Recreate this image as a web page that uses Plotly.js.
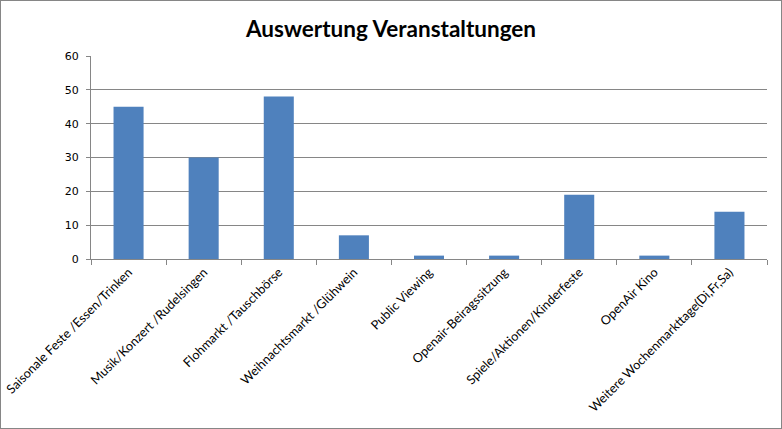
<!DOCTYPE html>
<html>
<head>
<meta charset="utf-8">
<script src="https://cdn.plot.ly/plotly-3.0.1.min.js"></script>
<style>
html,body{margin:0;padding:0;background:#fff;}
#chart{width:782px;height:429px;box-sizing:border-box;border:1px solid #868686;}
</style>
</head>
<body>
<div id="chart"></div>
<script>
var categories = [
  "Saisonale Feste /Essen/Trinken",
  "Musik/Konzert /Rudelsingen",
  "Flohmarkt /Tauschbörse",
  "Weihnachtsmarkt /Glühwein",
  "Public Viewing",
  "Openair-Beiragssitzung",
  "Spiele/Aktionen/Kinderfeste",
  "OpenAir Kino",
  "Weitere Wochenmarkttage(Di,Fr,Sa)"
];
var values = [45, 30, 48, 7, 1, 1, 19, 1, 14];
var yTicks = [0, 10, 20, 30, 40, 50, 60];

var trace = {
  type: "bar",
  x: categories,
  y: values,
  marker: {color: "#4F81BD"},
  hoverinfo: "x+y"
};

var layout = {
  width: 780,
  height: 427,
  margin: {l: 90, r: 14, t: 55, b: 169},
  paper_bgcolor: "#fff",
  plot_bgcolor: "#fff",
  bargap: 0.6,
  showlegend: false,
  title: {
    text: "<b>Auswertung Veranstaltungen</b>",
    font: {family: "Lato, Calibri, sans-serif", size: 22.5, color: "#000"},
    x: 0.5, xanchor: "center",
    y: 0.935, yanchor: "middle"
  },
  xaxis: {
    type: "category",
    tickangle: -45,
    tickson: "boundaries",
    ticks: "outside",
    ticklen: 5,
    tickcolor: "#868686",
    showline: true,
    linecolor: "#868686",
    linewidth: 1,
    showgrid: false,
    tickfont: {family: "Lato, Calibri, sans-serif", size: 12.6, color: "#000"},
    fixedrange: true
  },
  yaxis: {
    range: [0, 60],
    tickvals: yTicks,
    ticks: "outside",
    ticklen: 4,
    tickcolor: "#868686",
    showline: true,
    linecolor: "#868686",
    linewidth: 1,
    showgrid: true,
    gridcolor: "#868686",
    gridwidth: 1,
    zeroline: false,
    ticklabelstandoff: 5,
    tickfont: {family: "DejaVu Sans, Verdana, sans-serif", size: 11, color: "#000"},
    fixedrange: true
  }
};

Plotly.newPlot("chart", [trace], layout, {displayModeBar: false, staticPlot: true});
</script>
</body>
</html>
